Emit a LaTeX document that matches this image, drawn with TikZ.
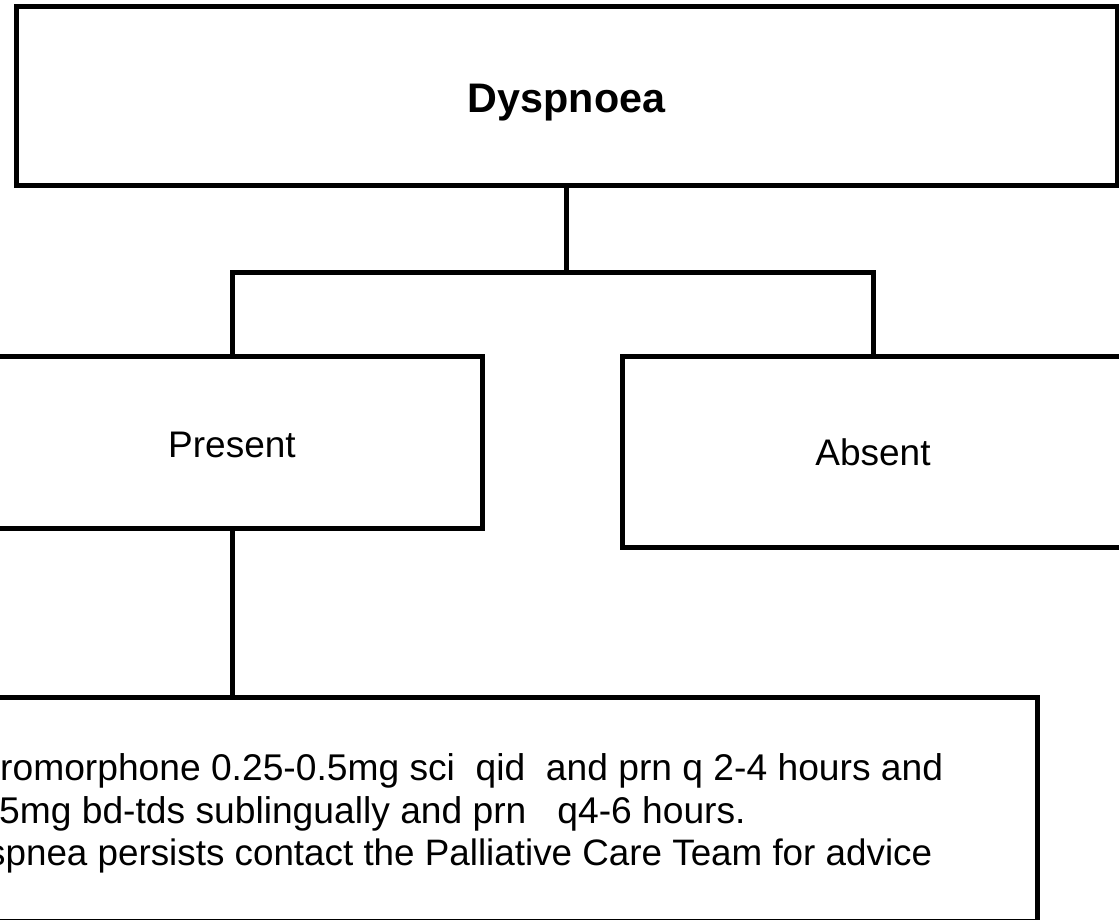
\documentclass[tikz,border=0pt]{standalone}
\usepackage{fontspec}
\setmainfont{Liberation Sans}
\begin{document}
\begin{tikzpicture}[x=1pt,y=-1pt,
  box/.style={draw=black, line width=5pt, rectangle, inner sep=0pt,
    text depth=0pt, font=\fontsize{37}{44}\selectfont},
  link/.style={draw=black, line width=5pt},
  bodyline/.style={anchor=base west, inner sep=0pt, font=\fontsize{37.2}{42}\selectfont}]
\useasboundingbox (0,0) rectangle (1119,920);
\clip (0,0) rectangle (1119,920);

% decision boxes
\node[box, minimum width=1101pt, minimum height=179pt, text height=33pt,
  font=\bfseries\fontsize{41.3}{48}\selectfont] (top) at (566.5,96.5) {Dyspnoea};
\node[box, minimum width=500pt, minimum height=172pt, text height=30pt]
  (present) at (232,442) {Present};
\node[box, minimum width=502pt, minimum height=191pt, text height=27pt]
  (absent) at (873,451.5) {Absent};
\node[box, minimum width=1097pt, minimum height=224pt] (advice) at (488.5,809.5) {};

% advice text
\node[bodyline] (l1) at (0,780) {romorphone 0.25-0.5mg sci~ qid~ and prn q 2-4 hours and};
\node[bodyline] (l2) at (-1,823) {5mg bd-tds sublingually and prn~~ q4-6 hours.};
\node[bodyline, font=\fontsize{36.8}{42}\selectfont] (l3) at (-13,865)
  {spnea persists contact the Palliative Care Team for advice};

% connectors
\coordinate (split) at (566.5,272);
\draw[link] (top.south) -- (split);
\draw[link] (present.north) |- (split) -| (absent.north);
\draw[link] (present.south) -- (present.south |- advice.north);
\end{tikzpicture}
\end{document}
